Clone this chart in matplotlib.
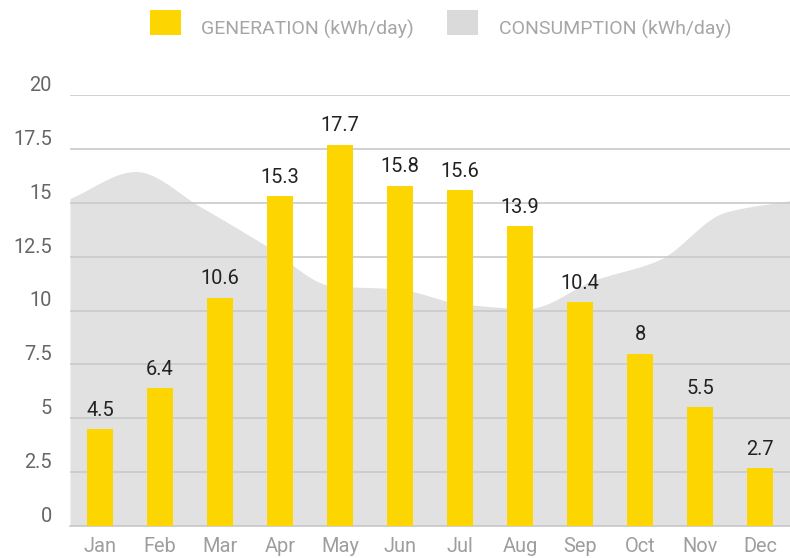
import numpy as np
import matplotlib
matplotlib.use('Agg')
import matplotlib.pyplot as plt
from matplotlib.patches import Rectangle

plt.rcParams['font.family'] = ['Roboto', 'DejaVu Sans']

# Дані
months = ['Jan', 'Feb', 'Mar', 'Apr', 'May', 'Jun', 'Jul', 'Aug', 'Sep', 'Oct', 'Nov', 'Dec']
generation = [4.5, 6.4, 10.6, 15.3, 17.7, 15.8, 15.6, 13.9, 10.4, 8, 5.5, 2.7]
consumption = [15.2, 16.45, 14.8, 13.0, 11.15, 11.0, 10.3, 10.1, 11.4, 12.35, 14.55, 15.1]
yticks = [0, 2.5, 5, 7.5, 10, 12.5, 15, 17.5, 20]
gen_label = 'GENERATION (kWh/day)'
cons_label = 'CONSUMPTION (kWh/day)'

YELLOW = '#FDD500'
GREY_AREA = '#E1E1E1'


def monotone_cubic(x, y, n=400):
    # монотонна кубічна інтерполяція (Fritsch-Carlson)
    x = np.asarray(x, float)
    y = np.asarray(y, float)
    h = np.diff(x)
    d = np.diff(y) / h
    m = np.zeros_like(y)
    m[0], m[-1] = d[0], d[-1]
    for i in range(1, len(y) - 1):
        if d[i - 1] * d[i] <= 0:
            m[i] = 0
        else:
            w1 = 2 * h[i] + h[i - 1]
            w2 = h[i] + 2 * h[i - 1]
            m[i] = (w1 + w2) / (w1 / d[i - 1] + w2 / d[i])
    xs = np.linspace(x[0], x[-1], n)
    idx = np.clip(np.searchsorted(x, xs) - 1, 0, len(x) - 2)
    t = (xs - x[idx]) / h[idx]
    h00 = 2 * t**3 - 3 * t**2 + 1
    h10 = t**3 - 2 * t**2 + t
    h01 = -2 * t**3 + 3 * t**2
    h11 = t**3 - t**2
    ys = h00 * y[idx] + h10 * h[idx] * m[idx] + h01 * y[idx + 1] + h11 * h[idx] * m[idx + 1]
    return xs, ys


fig = plt.figure(figsize=(7.9, 5.58), dpi=100)
ax = fig.add_axes([70 / 790, 32 / 558, 720 / 790, 431 / 558])

x = np.arange(len(months))
# площа споживання розтягнута на всю ширину осі
xc = np.linspace(-0.5, len(months) - 0.5, len(consumption))
xs, ys = monotone_cubic(xc, consumption)
ax.fill_between(xs, 0, ys, color=GREY_AREA, lw=0, zorder=1)

bars = ax.bar(x, generation, width=0.42, color=YELLOW, zorder=3)
for xi, v in zip(x, generation):
    ax.annotate(f'{v:g}', (xi, v), xytext=(0, 6.7), textcoords='offset points',
                ha='center', va='bottom', fontsize=14.4, color='#222222', zorder=4)

ax.set_xlim(-0.5, len(months) - 0.5)
ax.set_ylim(0, 20)
ax.set_yticks(yticks)
ax.set_yticklabels([f'{t:g}' for t in yticks])
for lab in ax.get_yticklabels():
    lab.set_va('bottom')
ax.set_xticks(x)
ax.set_xticklabels(months)
ax.yaxis.grid(True, color='#CACACA', lw=1.2, zorder=2)
ax.set_axisbelow(False)
for gl in ax.get_ygridlines():
    gl.set_zorder(2)
ax.tick_params(axis='y', length=0, pad=13, labelsize=14.4, labelcolor='#666666')
ax.tick_params(axis='x', length=0, pad=8, labelsize=14.4, labelcolor='#9E9E9E')
for s in ['top', 'right', 'left']:
    ax.spines[s].set_visible(False)
ax.spines['bottom'].set_color('#CACACA')
ax.spines['bottom'].set_linewidth(1.2)

# легенда
def px(xp, yp):
    return xp / 790, 1 - yp / 558

for x0, col, lab, tx in [(150, YELLOW, gen_label, 201), (447, '#DADADA', cons_label, 499)]:
    fx, fy = px(x0, 35)
    fig.add_artist(Rectangle((fx, fy), 31 / 790, 25 / 558, transform=fig.transFigure,
                             color=col, lw=0))
    tx_, ty_ = px(tx, 29)
    fig.text(tx_, ty_, lab, ha='left', va='center', fontsize=14, color='#A6A6A6')

plt.savefig('out.png', dpi=100)
